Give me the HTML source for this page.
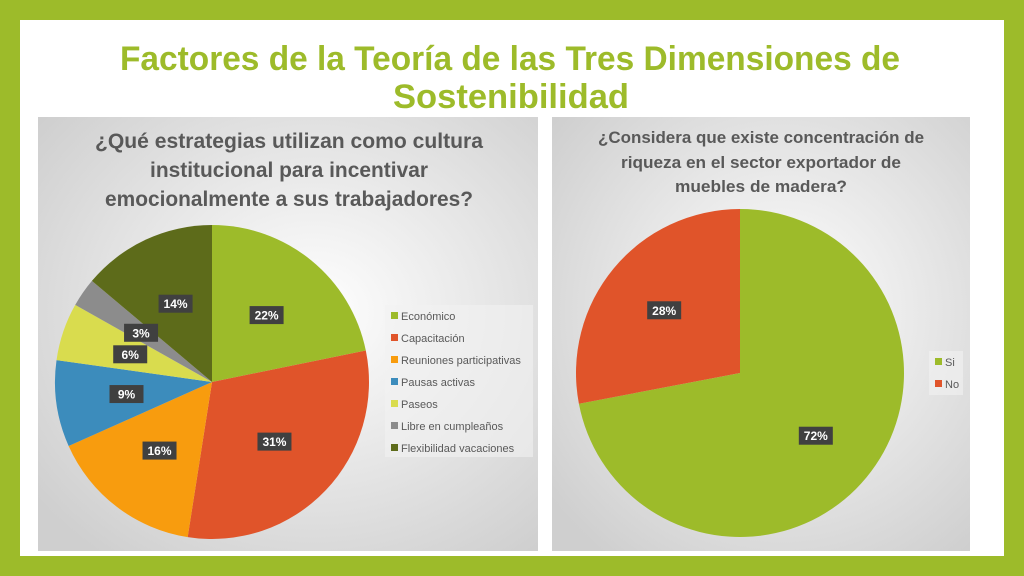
<!DOCTYPE html>
<html><head><meta charset="utf-8"><style>
html,body{margin:0;padding:0;width:1024px;height:576px;overflow:hidden;background:#9dbb2a}
svg{display:block}
</style></head><body>
<svg width="1024" height="576" viewBox="0 0 1024 576" xmlns="http://www.w3.org/2000/svg" font-family="'Liberation Sans', sans-serif">
<defs>
<radialGradient id="bg1" cx="0.55" cy="0.45" r="0.7"><stop offset="0" stop-color="#ffffff"/><stop offset="1" stop-color="#cfcfcf"/></radialGradient>
<radialGradient id="bg2" cx="0.55" cy="0.45" r="0.7"><stop offset="0" stop-color="#ffffff"/><stop offset="1" stop-color="#cfcfcf"/></radialGradient>
</defs>
<rect x="20" y="20" width="984" height="536" fill="#ffffff"/>
<g fill="#9dbb2a" font-weight="bold" font-size="34" text-anchor="middle">
<text x="510" y="70" textLength="780" lengthAdjust="spacingAndGlyphs">Factores de la Teoría de las Tres Dimensiones de</text>
<text x="511" y="108" textLength="236" lengthAdjust="spacingAndGlyphs">Sostenibilidad</text>
</g>
<rect x="38" y="117" width="500" height="434" fill="url(#bg1)"/>
<g fill="#595959" font-weight="bold" font-size="21" text-anchor="middle">
<text x="289" y="148" textLength="388" lengthAdjust="spacingAndGlyphs">¿Qué estrategias utilizan como cultura</text>
<text x="289" y="177" textLength="278" lengthAdjust="spacingAndGlyphs">institucional para incentivar</text>
<text x="289" y="206" textLength="368" lengthAdjust="spacingAndGlyphs">emocionalmente a sus trabajadores?</text>
</g>
<g id="pie1"></g>
<rect x="385" y="305" width="148" height="152" fill="#f2f2f2" opacity="0.6"/>
<g id="leg1"></g>
<rect x="552" y="117" width="418" height="434" fill="url(#bg2)"/>
<g fill="#595959" font-weight="bold" font-size="17" text-anchor="middle">
<text x="761" y="143" textLength="326" lengthAdjust="spacingAndGlyphs">¿Considera que existe concentración de</text>
<text x="761" y="168" textLength="280" lengthAdjust="spacingAndGlyphs">riqueza en el sector exportador de</text>
<text x="761" y="192" textLength="172" lengthAdjust="spacingAndGlyphs">muebles de madera?</text>
</g>
<g id="pie2"></g>
<rect x="929" y="351" width="34" height="44" fill="#f2f2f2" opacity="0.6"/>
<g id="leg2"></g>
</svg>
<script>
const cats1 = ["Económico","Capacitación","Reuniones participativas","Pausas activas","Paseos","Libre en cumpleaños","Flexibilidad vacaciones"];
const vals1 = [22,31,16,9,6,3,14];
const colors1 = ["#9dbb2a","#e0542a","#f89c0e","#3c8cbc","#d9dc4e","#8c8c8c","#5d6b1a"];
const cats2 = ["Si","No"];
const vals2 = [72,28];
const colors2 = ["#9dbb2a","#e0542a"];
const NS="http://www.w3.org/2000/svg";
function mk(tag, attrs, parent){const e=document.createElementNS(NS,tag);for(const k in attrs)e.setAttribute(k,attrs[k]);parent.appendChild(e);return e;}
function drawPie(gid, cats, vals, colors, cx, cy, r, lf, prefix){
  const g=document.getElementById(gid);
  const total=vals.reduce((a,b)=>a+b,0);
  let acc=0;
  const pt=(f,rr)=>{const a=f*2*Math.PI;return [cx+rr*Math.sin(a), cy-rr*Math.cos(a)];};
  vals.forEach((v,i)=>{
    const f0=acc/total, f1=(acc+v)/total; acc+=v;
    const p0=pt(f0,r), p1=pt(f1,r);
    const large=(f1-f0)>0.5?1:0;
    const p=mk('path',{d:`M${cx},${cy} L${p0[0]},${p0[1]} A${r},${r} 0 ${large} 1 ${p1[0]},${p1[1]} Z`,fill:colors[i]},g);
    
    
  });
  acc=0;
  vals.forEach((v,i)=>{
    const fm=(acc+v/2)/total; acc+=v;
    const c=pt(fm,r*lf);
    const lab=mk('g',{},g);
    
    
    mk('rect',{x:c[0]-17,y:c[1]-9,width:34,height:18,fill:'#404040'},lab);
    const t=mk('text',{x:c[0],y:c[1]+4.5,'text-anchor':'middle',fill:'#fff','font-size':12,'font-weight':'bold'},lab);
    t.textContent=v+'%';
  });
}
function drawLegend(gid, cats, colors, x, y0, step, prefix){
  const g=document.getElementById(gid);
  cats.forEach((c,i)=>{
    const y=y0+i*step;
    const e=mk('g',{},g);
    
    
    mk('rect',{x:x,y:y-4,width:7,height:7,fill:colors[i]},e);
    const t=mk('text',{x:x+10,y:y+4,fill:'#595959','font-size':11},e);
    t.textContent=c;
  });
}
drawPie('pie1',cats1,vals1,colors1,212,382,157,0.55,'chart1');
drawLegend('leg1',cats1,colors1,391,316,22,'chart1');
drawPie('pie2',cats2,vals2,colors2,740,373,164,0.6,'chart2');
drawLegend('leg2',cats2,colors2,935,362,22,'chart2');
</script>
</body></html>
